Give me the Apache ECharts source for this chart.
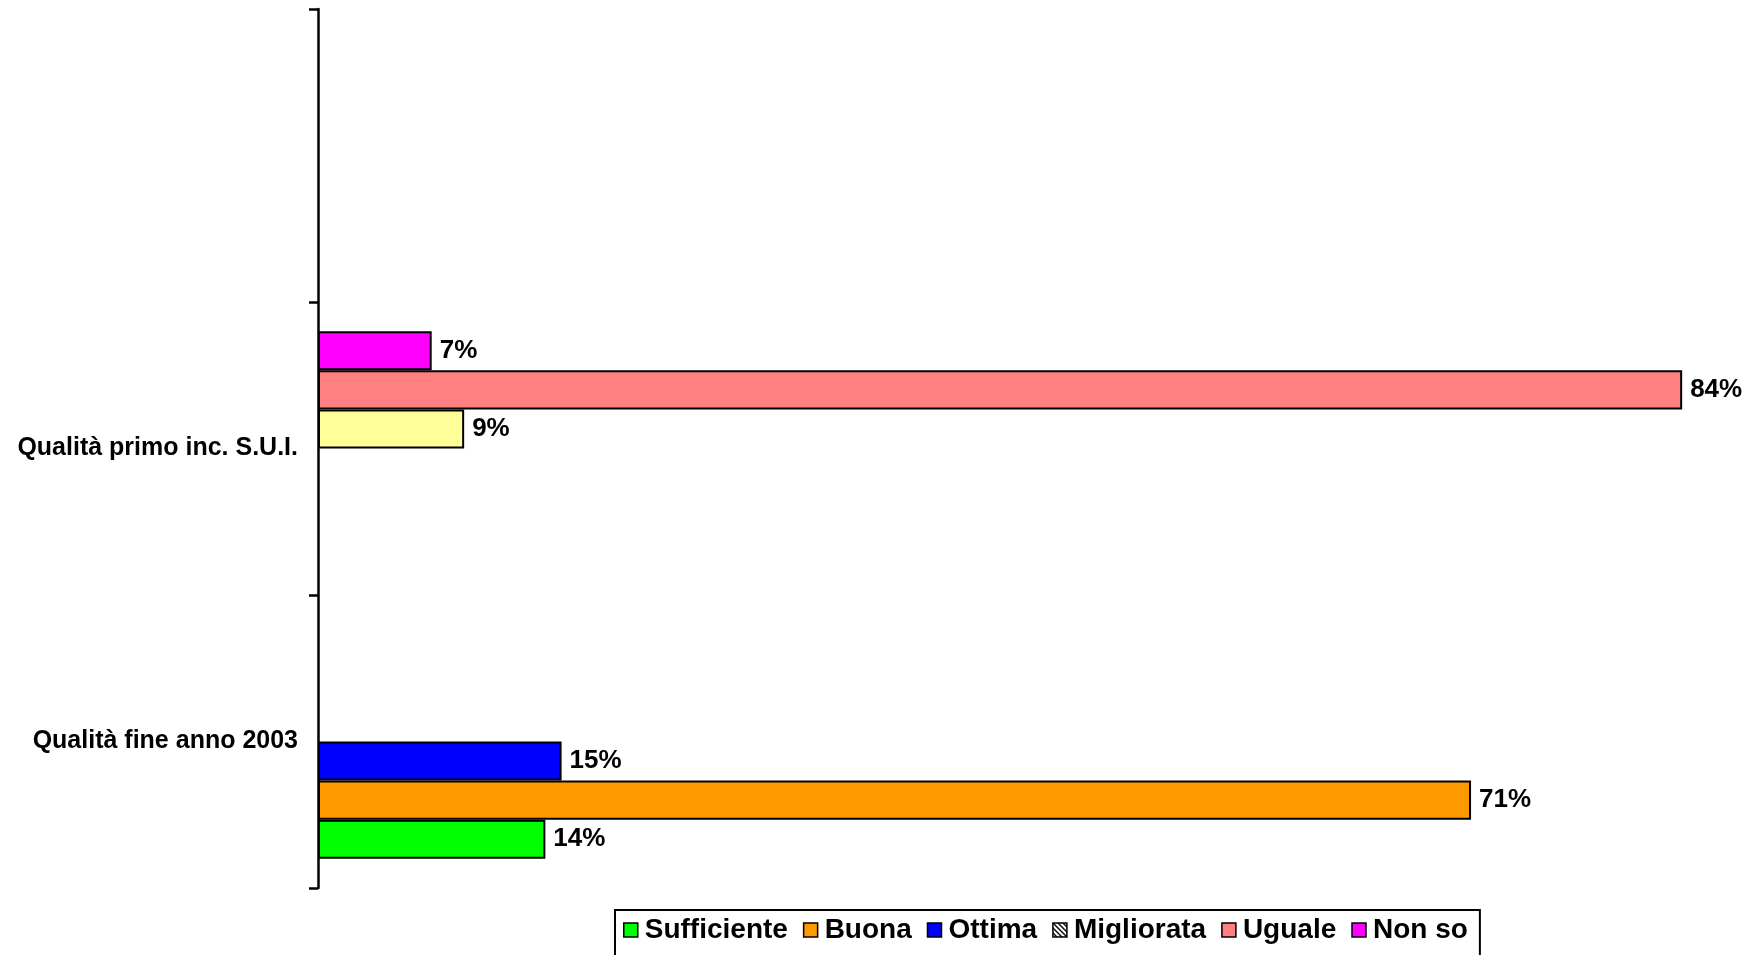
<!DOCTYPE html>
<html>
<head>
<meta charset="utf-8">
<script src="https://cdn.jsdelivr.net/npm/echarts@6/dist/echarts.min.js"></script>
<style>
  html, body { margin: 0; padding: 0; background: #fff; }
  #chart { width: 1755px; height: 955px; }
</style>
</head>
<body>
<div id="chart"></div>
<script>
// categories, bottom to top
var categories = ['Qualità fine anno 2003', 'Qualità primo inc. S.U.I.', ''];

var sufficiente = [14, null, null];
var buona = [71, null, null];
var ottima = [15, null, null];
var migliorata = [null, 9, null];
var uguale = [null, 84, null];
var nonSo = [null, 7, null];

var seriesNames = ['Sufficiente', 'Buona', 'Ottima', 'Migliorata', 'Uguale', 'Non so'];
var seriesData = [sufficiente, buona, ottima, migliorata, uguale, nonSo];
var seriesColors = ['#00FF00', '#FF9900', '#0000FF', '#FFFF99', '#FF8080', '#FF00FF'];

// hatch pattern for the Migliorata legend icon
function hatch() {
  var c = document.createElement('canvas');
  c.width = 5; c.height = 5;
  var ctx = c.getContext('2d');
  ctx.fillStyle = '#fff';
  ctx.fillRect(0, 0, 5, 5);
  ctx.strokeStyle = '#000';
  ctx.lineWidth = 1.4;
  ctx.beginPath();
  ctx.moveTo(0, 0); ctx.lineTo(5, 5);
  ctx.moveTo(-1, 4); ctx.lineTo(1, 6);
  ctx.moveTo(4, -1); ctx.lineTo(6, 1);
  ctx.stroke();
  return { image: c, repeat: 'repeat' };
}

var font = 'Liberation Sans, Arial, sans-serif';
var myChart = echarts.init(document.getElementById('chart'));

var series = seriesNames.map(function (name, i) {
  return {
    name: name,
    type: 'bar',
    data: seriesData[i],
    barGap: '0%',
    barCategoryGap: '20%',
    itemStyle: {
      color: seriesColors[i],
      borderColor: '#000',
      borderWidth: 2
    },
    label: {
      show: true,
      position: 'right',
      distance: 8,
      formatter: '{c}%',
      color: '#000',
      fontFamily: font,
      fontWeight: 'bold',
      fontSize: 26
    }
  };
}).reverse(); // echarts puts the first series on top; the reference has it at the bottom

var option = {
  backgroundColor: '#fff',
  animation: false,
  grid: {
    left: 318,
    top: 9,
    bottom: 67,
    width: 86 * 16.24
  },
  xAxis: {
    type: 'value',
    min: 0,
    max: 86,
    show: false
  },
  yAxis: {
    type: 'category',
    data: categories,
    axisLine: { show: true, lineStyle: { color: '#000', width: 2.5 } },
    axisTick: { show: true, length: 9, lineStyle: { color: '#000', width: 2.5 } },
    axisLabel: {
      color: '#000',
      fontFamily: font,
      fontWeight: 'bold',
      fontSize: 25,
      margin: 20
    }
  },
  legend: {
    left: 615,
    top: 910,
    padding: [6, 12, 20, 8],
    borderColor: '#000',
    borderWidth: 2,
    itemWidth: 14,
    itemHeight: 14,
    itemGap: 15,
    icon: 'rect',
    itemStyle: { borderColor: '#000', borderWidth: 1.5 },
    textStyle: {
      color: '#000',
      fontFamily: font,
      fontWeight: 'bold',
      fontSize: 28,
      padding: [0, 0, 0, 2]
    },
    data: seriesNames.map(function (name) {
      if (name === 'Migliorata') {
        return { name: name, itemStyle: { color: hatch(), borderColor: '#000', borderWidth: 1.5 } };
      }
      return { name: name };
    })
  },
  series: series
};

myChart.setOption(option);
</script>
</body>
</html>
